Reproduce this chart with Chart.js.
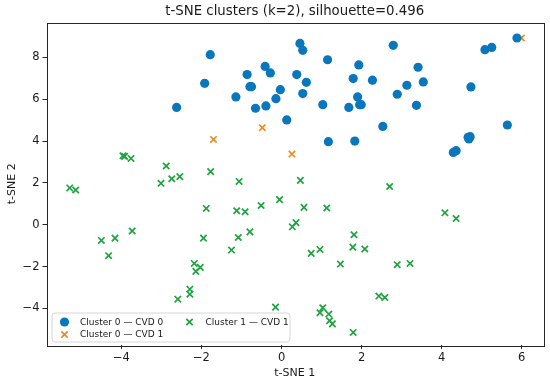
<!DOCTYPE html>
<html>
<head>
<meta charset="utf-8">
<script src="https://cdn.jsdelivr.net/npm/chart.js@4.4.1/dist/chart.umd.min.js"></script>
<style>
  html, body { margin: 0; padding: 0; background: #fff; }
  #wrap { width: 550px; height: 385px; }
</style>
</head>
<body>
<div id="wrap"><canvas id="tsne"></canvas></div>
<script>
// t-SNE coordinates, one array per legend group
const cluster0cvd0 = [
  [-1.78, 8.13], [-1.92, 6.76], [-2.62, 5.61], [-1.14, 6.11], [-0.86, 7.18],
  [-0.79, 6.60], [-0.75, 6.60], [-0.41, 7.57], [-0.28, 7.26], [-0.65, 5.57],
  [-0.39, 5.68], [-0.03, 6.46], [-0.14, 6.03], [0.13, 5.01], [0.46, 8.67],
  [0.53, 8.34], [1.15, 7.89], [2.79, 8.58], [1.93, 7.64], [3.41, 7.53],
  [0.38, 7.18], [0.62, 6.81], [1.79, 6.99], [2.27, 6.91], [3.54, 6.83],
  [3.13, 6.67], [0.53, 6.27], [2.89, 6.24], [1.90, 6.11], [4.73, 6.59],
  [1.03, 5.74], [1.68, 5.61], [1.95, 5.74], [1.99, 5.74], [3.37, 5.71],
  [2.53, 4.70], [5.64, 4.77], [1.17, 3.97], [1.83, 4.00], [4.29, 3.46],
  [4.36, 3.54], [4.66, 4.18], [4.71, 4.21], [4.68, 4.10], [5.08, 8.37],
  [5.25, 8.48], [5.88, 8.93]
];
const cluster0cvd1 = [
  [-1.70, 4.08], [-0.48, 4.64], [0.26, 3.38], [5.99, 8.93]
];
const cluster1cvd1 = [
  [-3.96, 3.30], [-3.92, 3.27], [-3.76, 3.17], [-2.88, 2.81], [-3.01, 1.98],
  [-2.74, 2.20], [-2.54, 2.30], [-1.77, 2.54], [-5.29, 1.76], [-5.14, 1.66],
  [-1.06, 2.07], [-1.88, 0.78], [-1.12, 0.67], [-0.91, 0.62], [-0.51, 0.92],
  [-0.05, 1.20], [-3.73, -0.30], [-4.50, -0.75], [-4.16, -0.64], [-4.32, -1.48],
  [-1.95, -0.64], [-1.08, -0.61], [-0.79, -0.34], [-1.25, -1.21], [-2.18, -1.85],
  [-2.03, -2.04], [-2.14, -2.23], [-2.29, -3.08], [-2.29, -3.32], [-2.59, -3.56],
  [-0.15, -3.94], [0.47, 2.12], [2.70, 1.83], [0.56, 0.83], [1.13, 0.80],
  [4.08, 0.57], [4.36, 0.30], [0.36, 0.10], [0.27, -0.10], [1.81, -0.48],
  [1.78, -1.07], [2.08, -1.16], [0.74, -1.37], [0.96, -1.18], [1.47, -1.88],
  [2.89, -1.91], [3.21, -1.85], [2.43, -3.41], [2.58, -3.48], [1.03, -3.97],
  [0.96, -4.21], [1.18, -4.27], [1.20, -4.59], [1.27, -4.74], [1.79, -5.15]
];

const seriesLabels = ["Cluster 0 — CVD 0", "Cluster 0 — CVD 1", "Cluster 1 — CVD 1"];
const xTicks = [-4, -2, 0, 2, 4, 6];
const yTicks = [-4, -2, 0, 2, 4, 6, 8];
const titleText = "t-SNE clusters (k=2), silhouette=0.496";

const BLUE = "#0a77bd";
const ORANGE = "#f08a1c";
const GREEN = "#1ea33f";
const FONT = "'DejaVu Sans', sans-serif";

const toPts = (arr) => arr.map(([x, y]) => ({ x, y }));
const fmt = (v) => (v < 0 ? "\u2212" + Math.abs(v) : String(v));

const markerStyles = [
  { pointStyle: "circle", radius: 4.6, backgroundColor: BLUE, borderColor: BLUE, borderWidth: 0 },
  { pointStyle: "crossRot", radius: 4.5, backgroundColor: ORANGE, borderColor: ORANGE, borderWidth: 1.7 },
  { pointStyle: "crossRot", radius: 4.5, backgroundColor: GREEN, borderColor: GREEN, borderWidth: 1.7 },
];

// box around the axes + title centred over the plot
const framePlugin = {
  id: "frame",
  afterDraw(chart) {
    const { ctx, chartArea: a } = chart;
    ctx.save();
    ctx.strokeStyle = "#262626";
    ctx.lineWidth = 1;
    ctx.strokeRect(Math.round(a.left) + 0.5, Math.round(a.top) + 0.5,
      Math.round(a.right - a.left), Math.round(a.bottom - a.top));
    ctx.fillStyle = "#1a1a1a";
    ctx.font = "13.3px " + FONT;
    ctx.textAlign = "center";
    ctx.textBaseline = "middle";
    ctx.fillText(titleText, (a.left + a.right) / 2, 11.5);
    ctx.restore();
  },
};

// matplotlib-like legend, two columns, lower left inside the axes
const legendPlugin = {
  id: "mplLegend",
  afterDatasetsDraw(chart) {
    const { ctx, chartArea: a } = chart;
    const bx = a.left + 5.5, by = a.bottom - 32, bw = 238, bh = 29;
    ctx.save();
    ctx.beginPath();
    ctx.roundRect(bx, by, bw, bh, 3);
    ctx.fillStyle = "rgba(255,255,255,0.85)";
    ctx.fill();
    ctx.strokeStyle = "#d6d6d6";
    ctx.lineWidth = 1;
    ctx.stroke();
    const slots = [
      { mx: bx + 12.5, y: by + 9, tx: bx + 28 },
      { mx: bx + 12.5, y: by + 21.5, tx: bx + 28 },
      { mx: bx + 137.5, y: by + 9, tx: bx + 153.5 },
    ];
    ctx.font = "9px " + FONT;
    ctx.textBaseline = "middle";
    ctx.textAlign = "left";
    slots.forEach((s, i) => {
      const st = markerStyles[i];
      ctx.fillStyle = st.backgroundColor;
      ctx.strokeStyle = st.borderColor;
      ctx.lineWidth = st.borderWidth;
      Chart.helpers.drawPoint(ctx, { pointStyle: st.pointStyle, radius: st.radius, borderWidth: st.borderWidth, rotation: 0 }, s.mx, s.y);
      ctx.fillStyle = "#1a1a1a";
      ctx.fillText(seriesLabels[i], s.tx, s.y + 0.5);
    });
    ctx.restore();
  },
};

const groups = [cluster0cvd0, cluster0cvd1, cluster1cvd1];

new Chart(document.getElementById("tsne"), {
  type: "scatter",
  data: {
    datasets: groups.map((g, i) => ({
      label: seriesLabels[i],
      data: toPts(g),
      pointStyle: markerStyles[i].pointStyle,
      pointRadius: markerStyles[i].radius,
      pointHoverRadius: markerStyles[i].radius,
      pointBackgroundColor: markerStyles[i].backgroundColor,
      pointBorderColor: markerStyles[i].borderColor,
      pointBorderWidth: markerStyles[i].borderWidth,
    })),
  },
  options: {
    responsive: true,
    maintainAspectRatio: false,
    animation: false,
    events: [],
    layout: { padding: { top: 22.5, right: 7, left: 0, bottom: 0 } },
    plugins: {
      legend: { display: false },
      title: { display: false },
      tooltip: { enabled: false },
    },
    scales: {
      x: {
        type: "linear",
        min: -5.87,
        max: 6.53,
        afterBuildTicks: (scale) => { scale.ticks = xTicks.map((v) => ({ value: v })); },
        afterFit: (scale) => { scale.height = 40; },
        border: { display: false },
        grid: { drawOnChartArea: false, drawTicks: true, tickLength: 4, tickColor: "#262626" },
        ticks: { color: "#1a1a1a", font: { family: FONT, size: 11.5 }, padding: 2, callback: fmt, maxRotation: 0 },
        title: { display: true, text: "t-SNE 1", color: "#1a1a1a", font: { family: FONT, size: 11 }, padding: { top: 0, bottom: 5 } },
      },
      y: {
        type: "linear",
        min: -5.75,
        max: 9.67,
        afterBuildTicks: (scale) => { scale.ticks = yTicks.map((v) => ({ value: v })); },
        afterFit: (scale) => { scale.width = 46.5; },
        border: { display: false },
        grid: { drawOnChartArea: false, drawTicks: true, tickLength: 4, tickColor: "#262626" },
        ticks: { color: "#1a1a1a", font: { family: FONT, size: 11.5 }, padding: 3, callback: fmt },
        title: { display: true, text: "t-SNE 2", color: "#1a1a1a", font: { family: FONT, size: 11 }, padding: { top: 6, bottom: 0 } },
      },
    },
  },
  plugins: [framePlugin, legendPlugin],
});
</script>
</body>
</html>
